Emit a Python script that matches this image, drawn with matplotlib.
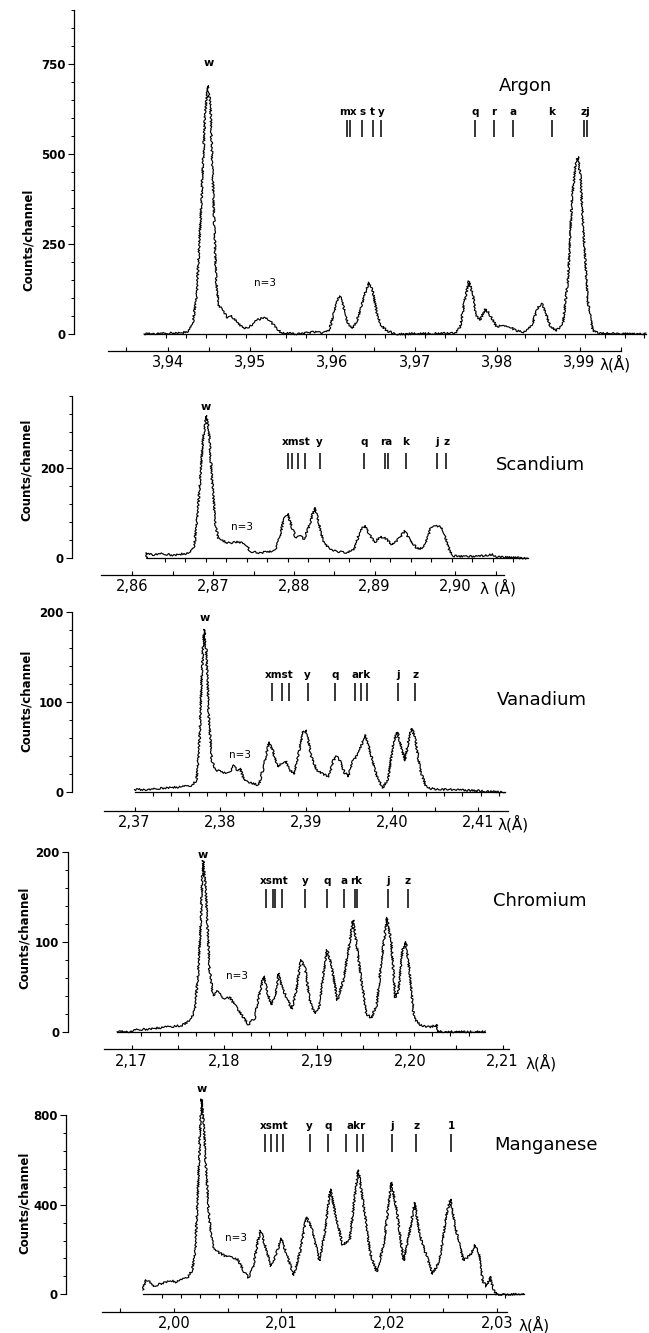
import numpy as np
import matplotlib
matplotlib.use('Agg')
import matplotlib.pyplot as plt

W, H = 649, 1333

# ---------------- data ----------------
# Argon
ar_wl = [3.93714, 3.93975, 3.94176, 3.94251, 3.94302, 3.94352, 3.94402, 3.94452,
         3.94487, 3.94518, 3.94553, 3.94588, 3.94618, 3.94678, 3.94729, 3.94779,
         3.94854, 3.94930, 3.95005, 3.95080, 3.95156, 3.95231, 3.95307, 3.95382,
         3.95583, 3.95784, 3.95884, 3.95960, 3.96010, 3.96060, 3.96095, 3.96136,
         3.96186, 3.96236, 3.96296, 3.96362, 3.96412, 3.96447, 3.96487, 3.96538,
         3.96588, 3.96663, 3.96789, 3.97492, 3.97553, 3.97603, 3.97658, 3.97704,
         3.97744, 3.97794, 3.97854, 3.97894, 3.97945, 3.97995, 3.98070, 3.98146,
         3.98221, 3.98322, 3.98422, 3.98497, 3.98538, 3.98588, 3.98648, 3.98724,
         3.98799, 3.98859, 3.98910, 3.98950, 3.98980, 3.99010, 3.99050, 3.99101,
         3.99161, 3.99226, 3.99804]
ar_counts = [0, 2, 3, 8, 25, 110, 330, 600,
             690, 640, 400, 150, 80, 65, 45, 50,
             30, 15, 22, 38, 45, 40, 20, 3,
             0, 6, 2, 10, 50, 95, 104, 75,
             30, 15, 35, 85, 125, 143, 120, 60,
             25, 8, 0, 2, 20, 90, 147, 110,
             50, 40, 68, 60, 40, 20, 25, 22,
             10, 5, 25, 75, 85, 60, 20, 10,
             30, 150, 380, 470, 493, 440, 280, 90,
             10, 2, 0]
ar_lines = [3.96176, 3.96211, 3.96362, 3.96487, 3.96588, 3.97729, 3.97960,
            3.98196, 3.98663, 3.99060, 3.99090]
ar_names = ['mx', 's', 't', 'y', 'q', 'r', 'a', 'k', 'zj']
ar_name_pos = [3.96194, 3.96362, 3.96487, 3.96588, 3.97729, 3.97960, 3.98196,
               3.98663, 3.99075]
ar_ticks = [3.94, 3.95, 3.96, 3.97, 3.98, 3.99]

# Scandium
sc_wl = [2.86175, 2.86179, 2.86256, 2.86359, 2.86513, 2.86641, 2.86718, 2.86769,
         2.86821, 2.86872, 2.86913, 2.86949, 2.86985, 2.87026, 2.87062, 2.87128,
         2.87205, 2.87282, 2.87359, 2.87410, 2.87462, 2.87564, 2.87667, 2.87769,
         2.87821, 2.87872, 2.87923, 2.87974, 2.88026, 2.88077, 2.88128, 2.88195,
         2.88256, 2.88308, 2.88359, 2.88436, 2.88538, 2.88667, 2.88744, 2.88810,
         2.88872, 2.88933, 2.89000, 2.89067, 2.89128, 2.89221, 2.89308, 2.89374,
         2.89436, 2.89538, 2.89615, 2.89692, 2.89744, 2.89821, 2.89872, 2.89923,
         2.89974, 2.90256, 2.90462, 2.90513, 2.90897]
sc_counts = [0, 12, 8, 10, 7, 10, 12, 30,
             130, 260, 317, 280, 180, 80, 45, 38,
             33, 36, 35, 30, 15, 12, 14, 18,
             45, 85, 100, 70, 45, 50, 42, 75,
             113, 80, 40, 22, 15, 13, 20, 55,
             73, 55, 35, 48, 45, 30, 45, 61,
             40, 20, 25, 65, 72, 70, 50, 20,
             5, 4, 8, 3, 0]
sc_lines = [2.87923, 2.87974, 2.88051, 2.88144, 2.88318, 2.88872, 2.89128,
            2.89164, 2.89385, 2.89769, 2.89887]
sc_names = ['xmst', 'y', 'q', 'ra', 'k', 'j', 'z']
sc_name_pos = [2.88031, 2.88318, 2.88872, 2.89144, 2.89385, 2.89769, 2.89887]
sc_ticks = [2.86, 2.87, 2.88, 2.89, 2.90]

# Vanadium
v_wl = [2.37000, 2.37169, 2.37361, 2.37554, 2.37675, 2.37723, 2.37757, 2.37786,
        2.37810, 2.37834, 2.37867, 2.37901, 2.37940, 2.38036, 2.38108, 2.38157,
        2.38190, 2.38229, 2.38277, 2.38373, 2.38446, 2.38508, 2.38566, 2.38614,
        2.38663, 2.38720, 2.38759, 2.38807, 2.38855, 2.38913, 2.38961, 2.39000,
        2.39058, 2.39120, 2.39193, 2.39265, 2.39313, 2.39347, 2.39386, 2.39443,
        2.39492, 2.39540, 2.39602, 2.39651, 2.39684, 2.39723, 2.39771, 2.39829,
        2.39892, 2.39954, 2.40012, 2.40060, 2.40108, 2.40147, 2.40195, 2.40229,
        2.40267, 2.40325, 2.40398, 2.40542, 2.40735, 2.40928, 2.41313]
v_counts = [3, 3, 5, 6, 8, 14, 60, 140,
            181, 160, 80, 35, 25, 22, 22, 30,
            24, 27, 13, 10, 8, 30, 56, 45,
            28, 33, 35, 25, 20, 45, 68, 68,
            40, 25, 20, 18, 35, 40, 36, 22,
            18, 35, 42, 55, 64, 52, 35, 15,
            5, 15, 55, 67, 50, 35, 60, 71,
            60, 25, 5, 3, 3, 2, 0]
v_lines = [2.38605, 2.38711, 2.38798, 2.39014, 2.39337, 2.39564, 2.39636,
           2.39708, 2.40070, 2.40267]
v_names = ['xmst', 'y', 'q', 'ark', 'j', 'z']
v_name_pos = [2.38687, 2.39014, 2.39337, 2.39636, 2.40070, 2.40267]
v_ticks = [2.37, 2.38, 2.39, 2.40, 2.41]

# Chromium
cr_wl = [2.16844, 2.17009, 2.17031, 2.17188, 2.17366, 2.17545, 2.17634, 2.17679,
         2.17714, 2.17741, 2.17768, 2.17790, 2.17813, 2.17839, 2.17879, 2.17924,
         2.17991, 2.18058, 2.18125, 2.18192, 2.18259, 2.18326, 2.18384, 2.18424,
         2.18460, 2.18504, 2.18549, 2.18585, 2.18616, 2.18661, 2.18728, 2.18772,
         2.18826, 2.18871, 2.18920, 2.18973, 2.19018, 2.19063, 2.19107, 2.19152,
         2.19219, 2.19277, 2.19330, 2.19388, 2.19429, 2.19473, 2.19531, 2.19585,
         2.19643, 2.19696, 2.19754, 2.19799, 2.19844, 2.19875, 2.19920, 2.19955,
         2.20000, 2.20045, 2.20112, 2.20223, 2.20290, 2.20299, 2.20813]
cr_counts = [0, 0, 2, 3, 5, 7, 13, 24,
             60, 110, 190, 170, 130, 70, 40, 45,
             37, 38, 28, 18, 8, 15, 45, 62,
             45, 30, 40, 65, 52, 40, 25, 45,
             80, 70, 35, 20, 25, 60, 91, 75,
             35, 55, 85, 124, 95, 60, 20, 15,
             30, 80, 127, 100, 38, 45, 90, 100,
             65, 15, 7, 5, 8, 0, 0]
cr_lines = [2.18446, 2.18527, 2.18549, 2.18625, 2.18871, 2.19107, 2.19295,
            2.19411, 2.19429, 2.19763, 2.19978]
cr_names = ['xsmt', 'y', 'q', 'a', 'rk', 'j', 'z']
cr_name_pos = [2.18536, 2.18871, 2.19107, 2.19295, 2.19420, 2.19763, 2.19978]
cr_ticks = [2.17, 2.18, 2.19, 2.20, 2.21]

# Manganese
mn_wl = [1.99712, 1.99738, 1.99769, 1.99808, 1.99865, 1.99923, 1.99981, 2.00019,
         2.00077, 2.00135, 2.00173, 2.00200, 2.00223, 2.00242, 2.00258, 2.00277,
         2.00300, 2.00327, 2.00365, 2.00423, 2.00481, 2.00538, 2.00596, 2.00654,
         2.00692, 2.00738, 2.00777, 2.00808, 2.00846, 2.00904, 2.00942, 2.01000,
         2.01046, 2.01115, 2.01173, 2.01231, 2.01277, 2.01354, 2.01404, 2.01454,
         2.01500, 2.01569, 2.01635, 2.01685, 2.01715, 2.01762, 2.01827, 2.01885,
         2.01954, 2.02019, 2.02069, 2.02135, 2.02192, 2.02238, 2.02288, 2.02404,
         2.02469, 2.02531, 2.02569, 2.02615, 2.02692, 2.02762, 2.02800, 2.02838,
         2.02869, 2.02904, 2.02942, 2.02969, 2.03000, 2.03250]
mn_counts = [19, 65, 60, 35, 45, 55, 60, 55,
             65, 80, 110, 200, 450, 700, 871, 760,
             560, 345, 210, 185, 170, 165, 155, 100,
             75, 120, 230, 285, 220, 125, 170, 250,
             180, 85, 190, 345, 300, 150, 280, 470,
             360, 220, 245, 450, 555, 400, 180, 100,
             230, 500, 380, 150, 280, 410, 260, 90,
             150, 350, 425, 300, 150, 180, 220, 180,
             60, 35, 80, 20, 0, 0]
mn_lines = [2.00846, 2.00904, 2.00962, 2.01015, 2.01262, 2.01431, 2.01600,
            2.01700, 2.01758, 2.02031, 2.02254, 2.02577]
mn_names = ['xsmt', 'y', 'q', 'akr', 'j', 'z', '1']
mn_name_pos = [2.00931, 2.01262, 2.01431, 2.01692, 2.02031, 2.02254, 2.02577]
mn_ticks = [2.00, 2.01, 2.02, 2.03]

fig = plt.figure(figsize=(W / 100, H / 100), dpi=100)


def panel(left, zero_y, scale, xlim, ymax, ypx, ymajor, yminor,
          wl, counts, base, chan0, chan_step, axis_span, axis_off,
          wl_ticks, lam_x, lam_text, lines, bar_y, names, name_pos, name_y,
          w_xy, n3_xy, element, element_xy, ylab_px, ylab_y):
    width = (xlim[1] - xlim[0]) * scale
    height = ymax * ypx
    ax = fig.add_axes([left / W, 1 - zero_y / H, width / W, height / H])
    ax.set_xlim(*xlim)
    ax.set_ylim(0, ymax)
    ax.patch.set_visible(False)

    # spectrum trace
    tr, = ax.plot(wl, counts, color='k', lw=0.85, clip_on=False)
    tr.set_sketch_params(scale=1.0, length=1.6, randomness=2.0)

    # zero line with channel marks
    ax.plot(base, [0, 0], color='k', lw=0.9, clip_on=False)
    chan = np.arange(chan0, base[1], chan_step)
    ax.plot(chan, np.zeros_like(chan), ls='none', marker=3, ms=2.6, mew=0.8,
            color='k', clip_on=False)

    # spines
    for s in ('top', 'right'):
        ax.spines[s].set_visible(False)
    ax.spines['left'].set_bounds(0, ymax)
    ax.spines['left'].set_linewidth(0.9)
    ax.spines['bottom'].set_position(('outward', axis_off))
    ax.spines['bottom'].set_bounds(*axis_span)
    ax.spines['bottom'].set_linewidth(0.9)

    # y axis
    ax.set_yticks(ymajor)
    ax.set_yticks(yminor, minor=True)
    ax.tick_params(axis='y', which='major', direction='out', length=4,
                   width=0.8, labelsize=8.5, pad=2)
    ax.tick_params(axis='y', which='minor', direction='out', length=2.5,
                   width=0.7)
    for t in ax.get_yticklabels():
        t.set_fontweight('bold')
    ax.set_ylabel('Counts/channel', fontsize=8.5, fontweight='bold')
    ax.yaxis.set_label_coords((ylab_px - left) / width, ylab_y)

    # wavelength axis, marks every 0.005, numbers every 0.01
    half = [round(t + 0.005, 3) for t in wl_ticks] + [round(wl_ticks[0] - 0.005, 3)]
    allt = sorted(t for t in set(wl_ticks + half)
                  if axis_span[0] <= t <= axis_span[1] + 1e-9)
    ax.set_xticks(allt)
    ax.set_xticklabels([('%.2f' % t).replace('.', ',') if t in wl_ticks else ''
                        for t in allt])
    ax.tick_params(axis='x', direction='in', length=2.8, width=0.8,
                   labelsize=10.5, pad=3)
    ax.annotate(lam_text, xy=(lam_x, 0), xycoords=('data', 'axes fraction'),
                xytext=(0, -axis_off - 3), textcoords='offset points',
                ha='left', va='top', fontsize=11, annotation_clip=False)

    # line identifications
    ax.vlines(lines, bar_y[0], bar_y[1], color='k', lw=1.1)
    for nm, x in zip(names, name_pos):
        ax.text(x, name_y, nm, ha='center', va='center', fontsize=7.5,
                fontweight='bold')
    ax.text(w_xy[0], w_xy[1], 'w', ha='center', va='center', fontsize=8,
            fontweight='bold')
    ax.text(n3_xy[0], n3_xy[1], 'n=3', ha='center', va='center', fontsize=7.5)
    ax.text(element_xy[0], element_xy[1], element, ha='center', va='center',
            fontsize=13, clip_on=False)
    return ax


panel(73.7, 334, 8237, (3.92859, 3.998), 900, 0.36,
      [0, 250, 500, 750], np.arange(0, 901, 50),
      ar_wl, ar_counts, (3.93714, 3.99804), 3.9398, 0.00242,
      (3.9327, 3.995), 12.0, ar_ticks, 3.99245, 'λ(Å)',
      ar_lines, (548, 594), ar_names, ar_name_pos, 617,
      (3.94503, 754), (3.95181, 141), 'Argon', (3.98347, 689), 35, 0.29)

panel(72.4, 558.3, 8071, (2.85256, 2.9095), 360, 0.45,
      [0, 200], np.arange(0, 361, 40),
      sc_wl, sc_counts, (2.86175, 2.90897), 2.8640, 0.00254,
      (2.8561, 2.906), 12.0, sc_ticks, 2.90308, 'λ (Å)',
      sc_lines, (198, 235), sc_names, sc_name_pos, 258,
      (2.86913, 336), (2.87359, 69), 'Scandium', (2.91051, 208), 33, 0.545)

panel(71.6, 792.3, 8589, (2.36267, 2.4135), 200, 0.9,
      [0, 100, 200], np.arange(0, 201, 20),
      v_wl, v_counts, (2.3700, 2.41313), 2.37212, 0.00212,
      (2.3665, 2.4135), 13.2, v_ticks, 2.4122, 'λ(Å)',
      v_lines, (101, 121), v_names, v_name_pos, 130,
      (2.37819, 194), (2.38229, 41), 'Vanadium', (2.41747, 103), 33, 0.51)

panel(67.5, 1031.7, 9272, (2.16308, 2.2108), 200, 0.9,
      [0, 100, 200], np.arange(0, 201, 20),
      cr_wl, cr_counts, (2.16844, 2.20813), 2.17106, 0.00196,
      (2.167, 2.2107), 12.7, cr_ticks, 2.2125, 'λ(Å)',
      cr_lines, (138, 159), cr_names, cr_name_pos, 168,
      (2.17768, 196), (2.18138, 62), 'Chromium', (2.21406, 145), 31, 0.52)

panel(66.2, 1294.3, 10762, (1.99, 2.0326), 800, 0.2241,
      [0, 400, 800], np.arange(0, 801, 80),
      mn_wl, mn_counts, (1.99712, 2.0325), 1.99892, 0.00177,
      (1.9933, 2.031), 12.5, mn_ticks, 2.0320, 'λ(Å)',
      mn_lines, (634, 715), mn_names, mn_name_pos, 752,
      (2.00258, 915), (2.00577, 253), 'Manganese', (2.03454, 664), 31, 0.51)

fig.savefig('out.png', dpi=100)
